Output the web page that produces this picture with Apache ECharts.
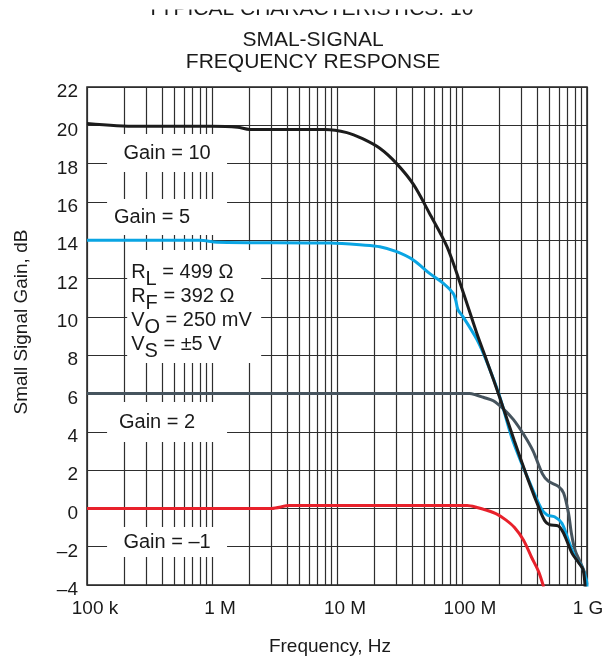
<!DOCTYPE html>
<html>
<head>
<meta charset="utf-8">
<script src="https://cdn.jsdelivr.net/npm/echarts@6/dist/echarts.min.js"></script>
<style>
html, body { margin: 0; padding: 0; background: #fff; }
#main { width: 610px; height: 662px; }
</style>
</head>
<body>
<div id="main"></div>
<script>
// frequency in Hz, gain in dB
var g10Freq = [1e5, 2.5e5, 1e6, 1.6e6, 2e6, 8e6, 1.2e7, 1.6e7, 2.2e7, 3e7, 4.1e7, 5.5e7, 7.6e7, 1.02e8, 1.32e8, 1.58e8, 2e8, 2.63e8, 3.4e8, 4.2e8, 4.6e8, 5e8, 5.9e8, 6.5e8, 7.6e8, 8.5e8, 9.3e8, 9.7e8]
var g10Gain = [20.1, 19.95, 19.95, 19.9, 19.78, 19.78, 19.62, 19.3, 18.8, 18.0, 16.9, 15.4, 13.65, 11.3, 9.1, 7.7, 5.8, 3.5, 1.45, -0.1, -0.65, -0.85, -0.92, -1.3, -2.35, -2.8, -3.2, -4.3]

var g5Freq = [1e5, 8e5, 1.1e6, 8.8e6, 1.6e7, 2.2e7, 3e7, 4.1e7, 5.5e7, 7.1e7, 8.5e7, 8.9e7, 9.3e7, 1.02e8, 1.32e8, 1.58e8, 2e8, 2.5e8, 3e8, 3.6e8, 4.3e8, 4.8e8, 5.5e8, 6.3e8, 7.1e8, 8e8, 9.1e8, 9.9e8, 1e9]
var g5Gain = [14, 14, 13.9, 13.85, 13.75, 13.66, 13.4, 12.96, 12.27, 11.75, 11.23, 10.88, 10.36, 10.0, 8.8, 7.65, 5.85, 3.7, 2.35, 1.13, 0.0, -0.35, -0.44, -0.78, -1.66, -2.53, -3.05, -3.74, -4.1]

var g2Freq = [1e5, 1.15e8, 1.3e8, 1.48e8, 1.78e8, 2.14e8, 2.57e8, 3.1e8, 3.7e8, 4.4e8, 4.9e8, 5.9e8, 6.5e8, 7.1e8, 7.5e8, 8e8, 8.8e8, 9.6e8, 9.95e8]
var g2Gain = [6, 6, 5.92, 5.8, 5.62, 5.2, 4.65, 3.88, 3.0, 1.8, 1.42, 1.15, 0.8, -0.22, -1.3, -2.15, -2.78, -3.38, -3.95]

var gm1Freq = [1e5, 3e6, 4.2e6, 1.1e8, 1.32e8, 1.58e8, 1.9e8, 2.24e8, 2.63e8, 3.1e8, 3.6e8, 4.1e8, 4.5e8]
var gm1Gain = [0, 0, 0.15, 0.15, 0.05, -0.1, -0.3, -0.6, -1.0, -1.65, -2.55, -3.3, -4.1]

var xTickLabels = ['100 k', '1 M', '10 M', '100 M', '1 G']
var decades = [1e5, 1e6, 1e7, 1e8]
var minorSteps = [2, 3, 4, 5, 6, 7, 8, 9]
var notes = ['Gain = 10', 'Gain = 5', 'Gain = 2', 'Gain = \u20131']

var minorFreq = []
decades.forEach(function (d) {
    minorSteps.forEach(function (k) { minorFreq.push(k * d) })
})

function pairs(f, g) {
    return f.map(function (v, i) { return [v, g[i]] })
}

var font = 'Liberation Sans, Arial, Helvetica, sans-serif'
var ink = '#1a1a1a'
var gridColor = '#2e2e2e'

function curve(name, f, g, color) {
    return {
        name: name, type: 'line', data: pairs(f, g),
        symbol: 'none', smooth: 0.3, z: 4,
        lineStyle: { color: color, width: 3 },
        animation: false
    }
}

function noteBox(text, coord, size, dx) {
    return {
        coord: coord, symbolSize: size,
        label: { formatter: text, offset: [dx || 0, 0] }
    }
}

var chart = echarts.init(document.getElementById('main'))
chart.setOption({
    animation: false,
    textStyle: { fontFamily: font },
    graphic: [
        { type: 'text', x: 310, y: 9, z: 10,
          style: { text: 'TYPICAL CHARACTERISTICS: 10', font: '21px ' + font, fill: ink, align: 'center', verticalAlign: 'middle' } },
        { type: 'rect', z: 11, shape: { x: 0, y: 0, width: 610, height: 9.5 }, style: { fill: '#fff' } },
        { type: 'text', x: 313, y: 40, z: 10,
          style: { text: 'SMAL-SIGNAL', font: '21px ' + font, fill: ink, align: 'center', verticalAlign: 'middle' } },
        { type: 'text', x: 313, y: 62, z: 10,
          style: { text: 'FREQUENCY RESPONSE', font: '21px ' + font, fill: ink, align: 'center', verticalAlign: 'middle' } }
    ],
    grid: {
        left: 87, right: 23, top: 87, bottom: 77,
        show: true, borderColor: '#222', borderWidth: 1.5, backgroundColor: '#fff'
    },
    xAxis: {
        type: 'log', logBase: 10, min: 1e5, max: 1e9,
        name: 'Frequency, Hz', nameLocation: 'middle', nameGap: 52,
        nameTextStyle: { fontSize: 19, color: ink, padding: [0, 14, 0, 0] },
        axisLine: { show: false }, axisTick: { show: false },
        splitLine: { show: true, lineStyle: { color: gridColor, width: 1.2 } },
        axisLabel: {
            fontSize: 19, color: ink, margin: 14,
            formatter: function (v) {
                var i = Math.round(Math.log10(v)) - 5
                return i === 4 ? '{e|' + xTickLabels[i] + '}' : '{n|' + xTickLabels[i] + '}'
            },
            rich: {
                n: { fontSize: 19, color: ink, padding: [0, 0, 0, 16] },
                e: { fontSize: 19, color: ink, padding: [0, 0, 0, 2] }
            }
        }
    },
    yAxis: {
        type: 'value', min: -4, max: 22, interval: 2,
        name: 'Small Signal Gain, dB', nameLocation: 'middle', nameGap: 56,
        nameTextStyle: { fontSize: 19, color: ink, padding: [0, 0, 0, 28] },
        axisLine: { show: false }, axisTick: { show: false },
        splitLine: { show: true, lineStyle: { color: gridColor, width: 1.2 } },
        axisLabel: {
            fontSize: 19, color: ink, margin: 9,
            formatter: function (v) { return '{v|' + (v < 0 ? '\u2013' + (-v) : '' + v) + '}' },
            rich: {
                v: { fontSize: 19, color: ink, padding: [10, 0, 0, 0] }
            }
        }
    },
    series: [
        {
            type: 'line', data: [], silent: true,
            markLine: {
                silent: true, animation: false, z: 1,
                symbol: ['none', 'none'], label: { show: false },
                lineStyle: { color: gridColor, width: 1.2, type: 'solid' },
                data: minorFreq.map(function (f) { return { xAxis: f } })
            }
        },
        {
            type: 'scatter', data: [], silent: true,
            markPoint: {
                silent: true, animation: false, z: 3,
                symbol: 'rect', itemStyle: { color: '#fff' },
                label: { show: true, position: 'inside', color: ink, fontSize: 20, fontFamily: font },
                data: [
                    noteBox(notes[0], [4.37e5, 18.55], [120, 38], 0),
                    noteBox(notes[1], [4.37e5, 15.21], [120, 36], -15),
                    noteBox(notes[2], [4.37e5, 4.51], [120, 40], -10),
                    noteBox(notes[3], [4.37e5, -1.76], [120, 30], 0),
                    {
                        coord: [7.2e5, 10.54], symbolSize: [134, 113],
                        label: {
                            align: 'left', offset: [-63, 2],
                            formatter: '{m|R}{s|L}{m| = 499 \u03A9}\n{m|R}{s|F}{m| = 392 \u03A9}\n{m|V}{s|O}{m| = 250 mV}\n{m|V}{s|S}{m| = \u00B15 V}',
                            rich: {
                                m: { fontSize: 20, lineHeight: 24, color: ink },
                                s: { fontSize: 20, lineHeight: 24, color: ink, padding: [14, 0, 0, 0] }
                            }
                        }
                    }
                ]
            }
        },
        curve('Gain = -1', gm1Freq, gm1Gain, '#e8212b'),
        curve('Gain = 2', g2Freq, g2Gain, '#46545e'),
        curve('Gain = 5', g5Freq, g5Gain, '#0aa5e3'),
        curve('Gain = 10', g10Freq, g10Gain, '#1c1c1c')
    ]
})
</script>
</body>
</html>
